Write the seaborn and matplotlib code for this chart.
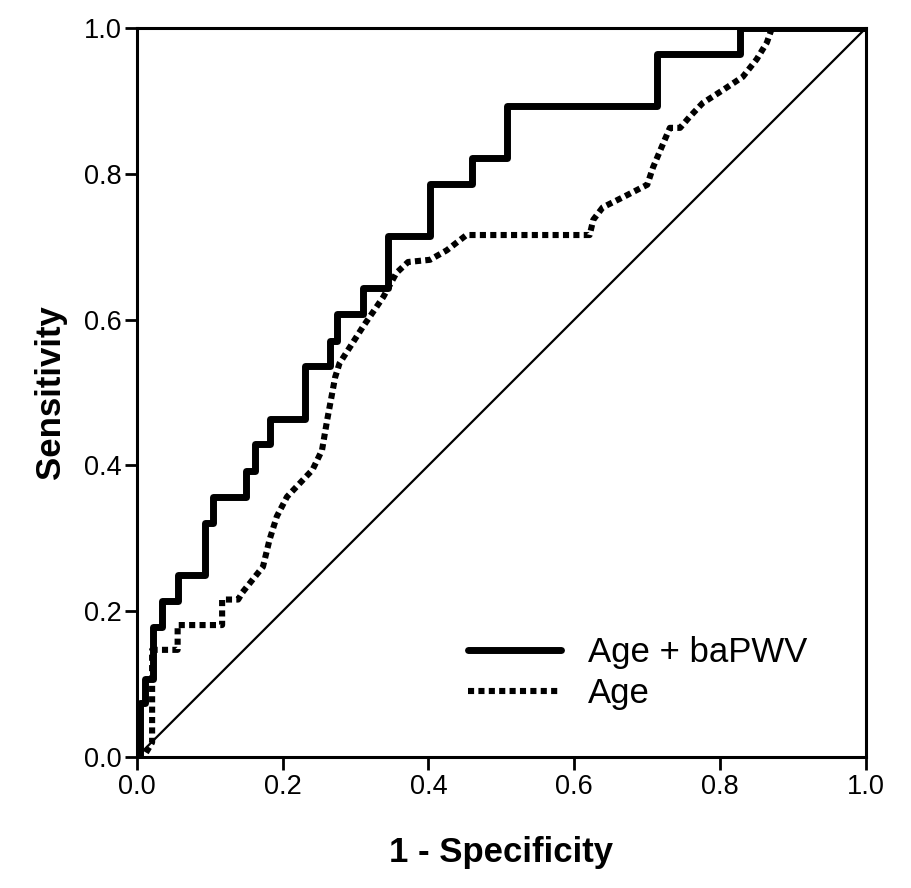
import matplotlib
matplotlib.use('Agg')

import matplotlib.pyplot as plt
import seaborn as sns

# ROC curve corner points (1 - specificity, sensitivity)
combo_fpr = [0.0, 0.004, 0.004, 0.011, 0.011, 0.022, 0.022, 0.034, 0.034, 0.056, 0.056,
             0.093, 0.093, 0.104, 0.104, 0.150, 0.150, 0.162, 0.162, 0.182, 0.182,
             0.230, 0.230, 0.265, 0.265, 0.274, 0.274, 0.310, 0.310, 0.344, 0.344,
             0.402, 0.402, 0.460, 0.460, 0.508, 0.508, 0.713, 0.713, 0.827, 0.827, 1.0]
combo_tpr = [0.0, 0.0, 0.074, 0.074, 0.107, 0.107, 0.179, 0.179, 0.214, 0.214, 0.250,
             0.250, 0.321, 0.321, 0.357, 0.357, 0.393, 0.393, 0.429, 0.429, 0.464,
             0.464, 0.536, 0.536, 0.571, 0.571, 0.607, 0.607, 0.643, 0.643, 0.714,
             0.714, 0.786, 0.786, 0.821, 0.821, 0.893, 0.893, 0.964, 0.964, 1.0, 1.0]

age_fpr = [0.0, 0.012, 0.021, 0.021, 0.056, 0.056, 0.117, 0.117, 0.139, 0.145, 0.173,
           0.182, 0.192, 0.206, 0.224, 0.241, 0.254, 0.261, 0.272, 0.278, 0.310,
           0.338, 0.356, 0.372, 0.402, 0.425, 0.452, 0.621, 0.626, 0.639, 0.667,
           0.700, 0.708, 0.722, 0.731, 0.745, 0.758, 0.776, 0.804, 0.831, 0.850,
           0.864, 0.871, 1.0]
age_tpr = [0.0, 0.005, 0.020, 0.147, 0.147, 0.181, 0.181, 0.216, 0.216, 0.226, 0.261,
           0.298, 0.330, 0.357, 0.376, 0.394, 0.421, 0.462, 0.521, 0.540, 0.590,
           0.631, 0.664, 0.679, 0.682, 0.695, 0.716, 0.716, 0.737, 0.754, 0.768,
           0.785, 0.809, 0.842, 0.863, 0.863, 0.878, 0.897, 0.915, 0.933, 0.957,
           0.980, 1.0, 1.0]

ref_line = [0.0, 1.0]
tick_vals = [0.0, 0.2, 0.4, 0.6, 0.8, 1.0]
tick_labels = ['0.0', '0.2', '0.4', '0.6', '0.8', '1.0']

sns.set_style("ticks")
plt.rcParams['font.family'] = ['Liberation Sans', 'DejaVu Sans']
plt.rcParams['text.color'] = 'black'
plt.rcParams['axes.labelcolor'] = 'black'
plt.rcParams['xtick.color'] = 'black'
plt.rcParams['ytick.color'] = 'black'

fig = plt.figure(figsize=(9.12, 8.88), dpi=100)
ax = fig.add_axes([0.150, 0.1475, 0.7996, 0.821])

sns.lineplot(x=ref_line, y=ref_line, ax=ax, color='black', linewidth=1.6)
sns.lineplot(x=combo_fpr, y=combo_tpr, ax=ax, sort=False, estimator=None,
             color='black', linewidth=5, label='Age + baPWV')
sns.lineplot(x=age_fpr, y=age_tpr, ax=ax, sort=False, estimator=None,
             color='black', linewidth=4.4, dashes=False, label='Age')
ax.lines[-1].set_linestyle((0, (1.0, 0.7)))

ax.set_xlim(0, 1)
ax.set_ylim(0, 1)
ax.set_xticks(tick_vals)
ax.set_yticks(tick_vals)
ax.set_xticklabels(tick_labels)
ax.set_yticklabels(tick_labels)
ax.tick_params(axis='both', labelsize=19.5, length=9, width=2, color='black',
               labelcolor='black', direction='out')
ax.tick_params(axis='y', pad=2)
for s in ax.spines.values():
    s.set_color('black')
    s.set_linewidth(2.2)

ax.set_xlabel('1 - Specificity', fontsize=25, fontweight='bold', labelpad=26)
ax.set_ylabel('Sensitivity', fontsize=25, fontweight='bold', labelpad=12)

leg = ax.legend(loc='lower left', bbox_to_anchor=(0.412, 0.022), frameon=False,
                fontsize=25, handlelength=2.65, handletextpad=0.8, labelspacing=0.22)
leg.legend_handles[1].set_linestyle((0, (1.0, 0.7)))

plt.savefig('out.png', dpi=100)
plt.close(fig)
